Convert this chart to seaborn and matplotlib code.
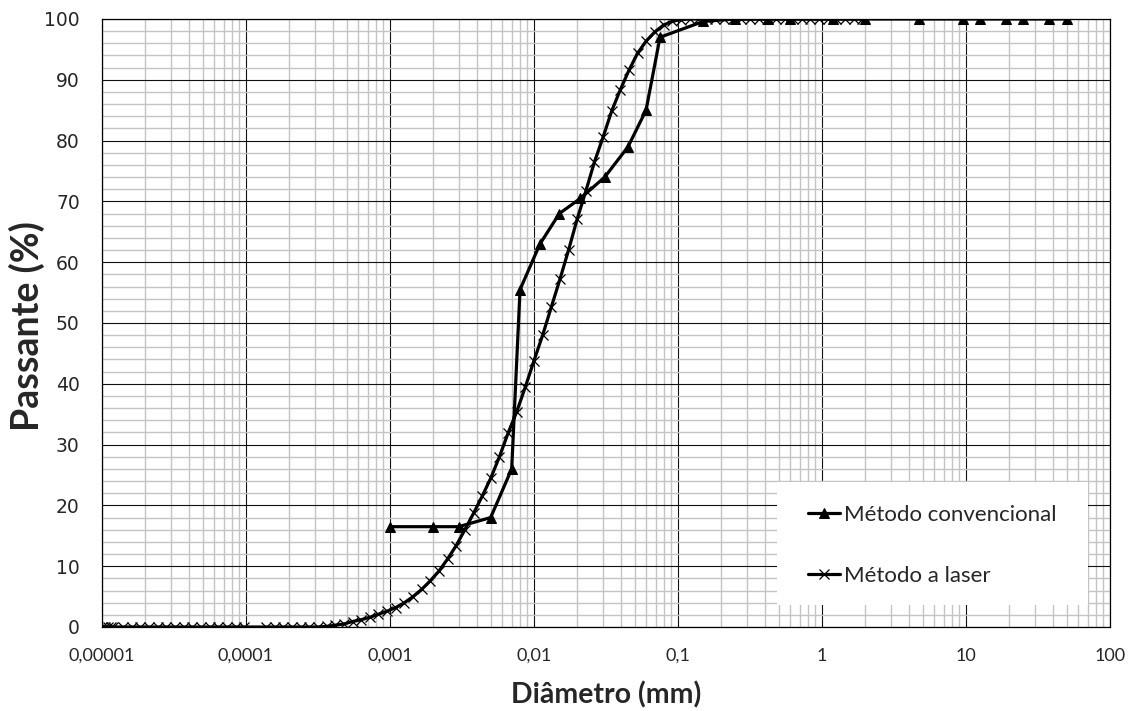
import matplotlib
matplotlib.use("Agg")
import matplotlib.pyplot as plt
import seaborn as sns
import numpy as np
import pandas as pd
from matplotlib.ticker import LogLocator, FixedLocator, MultipleLocator, NullFormatter
from matplotlib.patches import Rectangle

# ---------------- data ----------------
conv_label = "Método convencional"
laser_label = "Método a laser"

conv_x = [0.001, 0.002, 0.003, 0.005, 0.007, 0.008, 0.011, 0.015, 0.021, 0.031,
          0.045, 0.06, 0.075, 0.15, 0.25, 0.42, 0.6, 1.2, 2.0, 4.75, 9.5, 12.5,
          19.0, 25.0, 38.0, 50.0]
conv_y = [16.5, 16.5, 16.5, 18.0, 26.0, 55.5, 63.0, 68.0, 70.5, 74.0,
          79.0, 85.0, 97.0, 99.6, 100, 100, 100, 100, 100, 100, 100, 100,
          100, 100, 100, 100]

laser_x = [1.0e-5, 1.05e-5, 1.1e-5, 1.15e-5, 1.2e-5, 1.41e-5, 1.61e-5, 1.85e-5,
           2.13e-5, 2.44e-5, 2.80e-5, 3.22e-5, 3.70e-5, 4.24e-5, 4.87e-5,
           5.59e-5, 6.42e-5, 7.37e-5, 8.46e-5, 9.72e-5,
           1.380e-4, 1.585e-4, 1.820e-4, 2.089e-4, 2.399e-4, 2.754e-4, 3.162e-4,
           3.631e-4, 4.169e-4, 4.786e-4, 5.495e-4, 6.310e-4, 7.244e-4, 8.318e-4,
           9.550e-4,
           1.096e-3, 1.259e-3, 1.445e-3, 1.660e-3, 1.905e-3, 2.188e-3, 2.512e-3,
           2.884e-3, 3.311e-3, 3.802e-3, 4.365e-3, 5.012e-3, 5.754e-3, 6.607e-3,
           7.586e-3, 8.710e-3,
           0.01, 0.01148, 0.01318, 0.01514, 0.01738, 0.01995, 0.02291, 0.02630,
           0.03020, 0.03467, 0.03981, 0.04571, 0.05248, 0.06026, 0.06918,
           0.07943, 0.09120,
           0.1047, 0.1202, 0.1380, 0.1585, 0.1820, 0.2089, 0.2399, 0.2754,
           0.3162, 0.3631, 0.4169, 0.4786, 0.5495, 0.6310, 0.7244, 0.8318,
           0.9550,
           1.096, 1.259, 1.445, 1.660, 1.905]
laser_y = [0, 0, 0, 0, 0, 0, 0, 0, 0, 0, 0, 0, 0, 0, 0, 0, 0, 0, 0, 0,
           0, 0, 0, 0, 0, 0, 0, 0.1, 0.3, 0.5, 0.9, 1.2, 1.6, 2.1, 2.6,
           3.2, 4.0, 5.0, 6.2, 7.6, 9.2, 11.2, 13.4, 16.0, 18.7, 21.5, 24.5,
           28.0, 31.9, 35.4, 39.5,
           43.8, 48.0, 52.6, 57.2, 62.0, 67.1, 71.7, 76.5, 80.6, 84.9, 88.4,
           91.6, 94.4, 96.4, 97.9, 99.0, 99.6,
           99.9, 100, 100, 100, 100, 100, 100, 100, 100, 100, 100, 100, 100,
           100, 100, 100, 100,
           100, 100, 100, 100, 100]

x_ticks = [1e-5, 1e-4, 1e-3, 1e-2, 1e-1, 1, 10, 100]
x_ticklabels = ["0,00001", "0,0001", "0,001", "0,01", "0,1", "1", "10", "100"]
y_ticks = [0, 10, 20, 30, 40, 50, 60, 70, 80, 90, 100]
y_ticklabels = ["0", "10", "20", "30", "40", "50", "60", "70", "80", "90", "100"]

x_label = "Diâmetro (mm)"
y_label = "Passante (%)"

# ---------------- style ----------------
sns.set_style("white")
plt.rcParams["font.family"] = ["Lato", "DejaVu Sans"]

fig = plt.figure(figsize=(11.38, 7.11), dpi=100)
ax = fig.add_axes([102 / 1138, 1 - 627 / 711, (1110 - 102) / 1138, (627 - 19) / 711])

conv_df = pd.DataFrame({"x": conv_x, "y": conv_y})
laser_df = pd.DataFrame({"x": laser_x, "y": laser_y})

sns.lineplot(data=conv_df, x="x", y="y", ax=ax, color="black", linewidth=2.3,
             marker="^", markersize=7.5, markeredgecolor="black",
             markerfacecolor="black", estimator=None, sort=False,
             label=conv_label, zorder=5)
sns.lineplot(data=laser_df, x="x", y="y", ax=ax, color="black", linewidth=2.3,
             marker="x", markersize=6.5, markeredgewidth=0.9,
             markeredgecolor="black", estimator=None, sort=False,
             label=laser_label, zorder=6)

ax.set_xscale("log")
ax.set_xlim(1e-5, 100)
ax.set_ylim(0, 100)

ax.xaxis.set_major_locator(FixedLocator(x_ticks))
ax.set_xticklabels(x_ticklabels, fontsize=13)
ax.xaxis.set_minor_locator(LogLocator(base=10, subs=np.arange(2, 10), numticks=100))
ax.xaxis.set_minor_formatter(NullFormatter())
ax.yaxis.set_major_locator(FixedLocator(y_ticks))
ax.set_yticklabels(y_ticklabels, fontsize=13.5, fontfamily="DejaVu Sans")
ax.yaxis.set_minor_locator(MultipleLocator(2))

ax.grid(which="minor", color="#c4c4c4", linewidth=1.0, zorder=0)
ax.grid(which="major", color="#111111", linewidth=0.8, zorder=1)
ax.set_axisbelow(True)

ax.tick_params(axis="x", which="major", direction="out", length=5, width=0.8,
               color="black", pad=10)
ax.tick_params(axis="y", which="major", direction="out", length=5, width=0.8,
               color="black", pad=11)
ax.tick_params(axis="both", which="minor", length=0)
for s in ax.spines.values():
    s.set_color("black")
    s.set_linewidth(0.9)

ax.set_xlabel(x_label, fontsize=20.5, fontweight="bold")
ax.set_ylabel(y_label, fontsize=27, fontweight="bold")
ax.xaxis.set_label_coords(0.5, -0.09)
ax.yaxis.set_label_coords(-0.057, 0.495)

# legend background box
ax.add_patch(Rectangle((0.670, 0.036), 0.308, 0.203, transform=ax.transAxes,
                       facecolor="white", edgecolor="none", zorder=7))
leg = ax.legend(loc="center left", bbox_to_anchor=(0.700, 0.134), frameon=False,
                fontsize=16, borderpad=0, borderaxespad=0, handlelength=1.45,
                handletextpad=0.2, labelspacing=1.85)
leg.set_zorder(8)

fig.savefig("out.png", dpi=100)
